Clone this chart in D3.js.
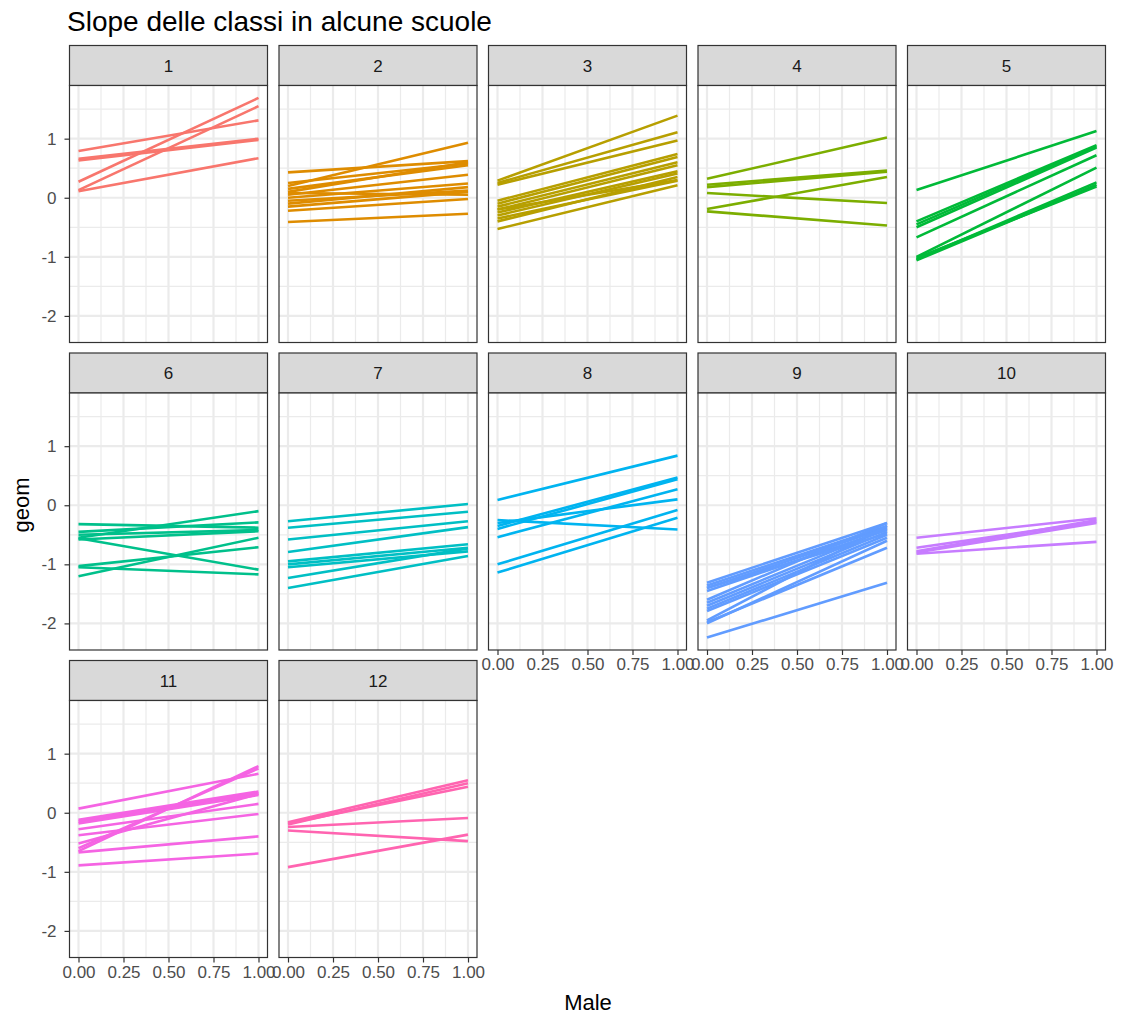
<!DOCTYPE html>
<html>
<head>
<meta charset="utf-8">
<script src="https://cdn.jsdelivr.net/npm/d3@7"></script>
<style>
  body { margin: 0; background: #fff; }
  svg { font-family: "Liberation Sans", Arial, sans-serif; }
</style>
</head>
<body>
<svg id="chart" width="1133" height="1014"></svg>
<script>
// Each class line: [predicted geom at Male = 0, predicted geom at Male = 1]
const school1 = [[0.79,1.31],[0.63,0.98],[0.27,1.69],[0.13,1.55],[0.11,0.67],[0.66,1.00]];
const school2 = [[0.43,0.62],[0.20,0.93],[0.25,0.58],[0.15,0.55],[0.10,0.60],[0.05,0.39],[0.00,0.24],
                 [-0.05,0.12],[0.08,0.05],[-0.10,0.18],[-0.22,-0.02],[-0.41,-0.27],[-0.15,0.10]];
const school3 = [[0.29,1.39],[0.25,1.11],[0.22,0.97],[-0.05,0.74],[-0.10,0.69],[-0.15,0.60],[-0.20,0.55],
                 [-0.25,0.45],[-0.30,0.41],[-0.20,0.30],[-0.35,0.29],[-0.53,0.21],[-0.40,0.35]];
const school4 = [[0.32,1.02],[0.22,0.46],[0.18,0.44],[0.08,-0.09],[-0.19,0.35],[-0.23,-0.47]];
const school5 = [[0.13,1.13],[-0.40,0.89],[-0.45,0.87],[-0.50,0.85],[-0.67,0.72],[-1.00,0.51],
                 [-1.04,0.26],[-1.06,0.22],[-1.02,0.19]];
const school6 = [[-0.55,-0.10],[-0.32,-0.38],[-0.45,-0.29],[-0.50,-0.42],[-0.58,-0.44],
                 [-1.03,-0.71],[-1.20,-0.55],[-1.05,-1.17],[-0.56,-1.09]];
const school7 = [[-0.27,0.02],[-0.38,-0.11],[-0.58,-0.27],[-0.79,-0.37],[-0.95,-0.66],[-1.00,-0.72],
                 [-1.05,-0.78],[-1.23,-0.73],[-1.40,-0.86]];
const school8 = [[0.09,0.84],[-0.35,0.47],[-0.40,0.44],[-0.54,0.27],[-0.25,-0.41],[-0.30,0.10],
                 [-1.00,-0.08],[-1.14,-0.21]];
const school9 = [[-1.31,-0.30],[-1.36,-0.35],[-1.40,-0.38],[-1.45,-0.42],[-1.60,-0.30],[-1.65,-0.40],
                 [-1.70,-0.45],[-1.75,-0.50],[-1.79,-0.55],[-1.95,-0.35],[-2.00,-0.60],[-1.98,-0.72],
                 [-2.24,-1.31],[-1.40,-0.48]];
const school10 = [[-0.55,-0.22],[-0.72,-0.28],[-0.78,-0.25],[-0.82,-0.62],[-0.80,-0.30]];
const school11 = [[0.07,0.66],[-0.65,0.79],[-0.60,0.75],[-0.12,0.36],[-0.15,0.33],[-0.18,0.30],
                  [-0.28,0.15],[-0.38,-0.02],[-0.67,-0.40],[-0.89,-0.69],[-0.52,0.32]];
const school12 = [[-0.16,0.55],[-0.20,0.50],[-0.18,0.44],[-0.24,-0.09],[-0.30,-0.48],[-0.92,-0.37]];

const schools = ["1","2","3","4","5","6","7","8","9","10","11","12"];
const schoolLines = [school1,school2,school3,school4,school5,school6,school7,school8,school9,school10,school11,school12];
const schoolColors = ["#F8766D","#DE8C00","#B79F00","#7CAE00","#00BA38","#00C08B",
                      "#00BFC4","#00B4F0","#619CFF","#C77CFF","#F564E3","#FF64B0"];
const xTicks = [0, 0.25, 0.5, 0.75, 1];
const yTicks = [-2, -1, 0, 1];

const svg = d3.select("#chart");
const ncol = 5;
const panelW = 198, panelH = 257, stripH = 40;
const colStep = 209.5, rowStep = 307.5;
const left0 = 69.5, top0 = 45.5;

const x = d3.scaleLinear().domain([-0.05, 1.05]).range([0, panelW]);
const y = d3.scaleLinear().domain([-2.45, 1.9]).range([panelH, 0]);

svg.append("text").attr("x", 67).attr("y", 31)
  .attr("font-size", 28).attr("fill", "#000")
  .text("Slope delle classi in alcune scuole");

const nPanels = schools.length;
schools.forEach((name, i) => {
  const col = i % ncol, row = Math.floor(i / ncol);
  const gx = left0 + col * colStep, gy = top0 + row * rowStep;
  const g = svg.append("g").attr("transform", `translate(${gx},${gy})`);

  // strip
  g.append("rect").attr("x", 0).attr("y", 0).attr("width", panelW).attr("height", stripH)
    .attr("fill", "#D9D9D9").attr("stroke", "#333").attr("stroke-width", 1.2);
  g.append("text").attr("x", panelW / 2).attr("y", stripH / 2 + 6)
    .attr("text-anchor", "middle").attr("font-size", 17).attr("fill", "#1A1A1A").text(name);

  const p = g.append("g").attr("transform", `translate(0,${stripH})`);
  p.append("rect").attr("width", panelW).attr("height", panelH).attr("fill", "#fff");

  // minor grid
  const xMinor = [0.125, 0.375, 0.625, 0.875];
  const yMinor = [-1.5, -0.5, 0.5, 1.5];
  p.selectAll(".xm").data(xMinor).join("line")
    .attr("x1", d => x(d)).attr("x2", d => x(d)).attr("y1", 0).attr("y2", panelH)
    .attr("stroke", "#EBEBEB").attr("stroke-width", 1.2);
  p.selectAll(".ym").data(yMinor).join("line")
    .attr("y1", d => y(d)).attr("y2", d => y(d)).attr("x1", 0).attr("x2", panelW)
    .attr("stroke", "#EBEBEB").attr("stroke-width", 1.2);
  // major grid
  p.selectAll(".xg").data(xTicks).join("line")
    .attr("x1", d => x(d)).attr("x2", d => x(d)).attr("y1", 0).attr("y2", panelH)
    .attr("stroke", "#EBEBEB").attr("stroke-width", 2.2);
  p.selectAll(".yg").data(yTicks).join("line")
    .attr("y1", d => y(d)).attr("y2", d => y(d)).attr("x1", 0).attr("x2", panelW)
    .attr("stroke", "#EBEBEB").attr("stroke-width", 2.2);

  // class lines
  p.selectAll(".cl").data(schoolLines[i]).join("line")
    .attr("x1", x(0)).attr("x2", x(1))
    .attr("y1", d => y(d[0])).attr("y2", d => y(d[1]))
    .attr("stroke", schoolColors[i]).attr("stroke-width", 2.6).attr("stroke-linecap", "butt");

  p.append("rect").attr("width", panelW).attr("height", panelH)
    .attr("fill", "none").attr("stroke", "#333").attr("stroke-width", 1.2);

  // y axis on first column
  if (col === 0) {
    const ya = p.append("g").call(d3.axisLeft(y).tickValues(yTicks).tickSize(5).tickPadding(8)
      .tickFormat(d => d < 0 ? "-" + Math.abs(d) : d));
    ya.select(".domain").remove();
    ya.selectAll("line").attr("stroke", "#333").attr("stroke-width", 1.2);
    ya.selectAll("text").attr("font-size", 17).attr("fill", "#4D4D4D")
      .attr("font-family", "Liberation Sans, Arial, sans-serif");
  }
  // x axis where nothing sits below
  if (i + ncol >= nPanels) {
    const xa = p.append("g").attr("transform", `translate(0,${panelH})`)
      .call(d3.axisBottom(x).tickValues(xTicks).tickSize(5).tickPadding(3).tickFormat(d3.format(".2f")));
    xa.select(".domain").remove();
    xa.selectAll("line").attr("stroke", "#333").attr("stroke-width", 1.2);
    xa.selectAll("text").attr("font-size", 17).attr("fill", "#4D4D4D")
      .attr("font-family", "Liberation Sans, Arial, sans-serif");
  }
});

svg.append("text").attr("x", 588).attr("y", 1010).attr("text-anchor", "middle")
  .attr("font-size", 22).attr("fill", "#000").text("Male");
svg.append("text").attr("transform", "translate(29,505) rotate(-90)").attr("text-anchor", "middle")
  .attr("font-size", 22).attr("fill", "#000").text("geom");
</script>
</body>
</html>
